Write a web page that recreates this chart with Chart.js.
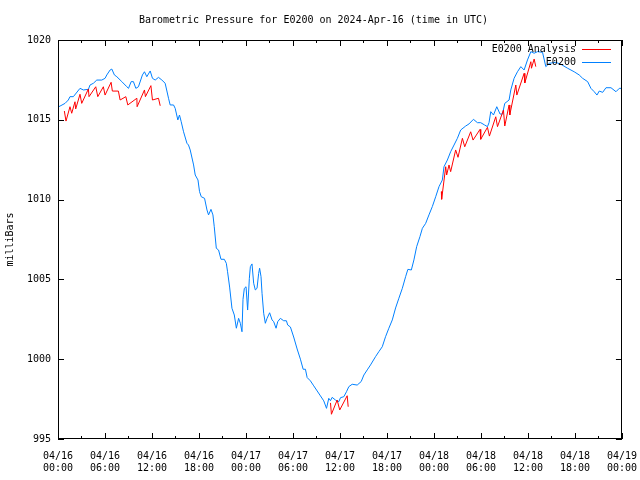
<!DOCTYPE html>
<html>
<head>
<meta charset="utf-8">
<script src="https://cdn.jsdelivr.net/npm/chart.js@4.4.1/dist/chart.umd.min.js"></script>
<style>
  html, body { margin: 0; padding: 0; background: #fff; }
  canvas { display: block; }
</style>
</head>
<body>
<canvas id="pressure" width="640" height="480"></canvas>
<script>
// hours since 04/16 00:00 UTC and pressure in mb
const obsHours = [0.00, 0.26, 0.90, 1.32, 1.53, 1.96, 2.81, 3.24, 3.88, 4.09, 4.52, 4.95, 5.59, 6.01, 6.23, 6.65, 6.87, 7.20, 7.51, 8.15,
  8.79, 9.00, 9.34, 9.63, 9.94, 10.27, 10.78, 11.04, 11.34, 11.77, 12.06, 12.41, 12.83, 13.26, 13.68, 14.11, 14.32, 14.75, 14.96, 15.30,
  15.51, 15.73, 16.03, 16.46, 16.66, 16.88, 17.31, 17.52, 17.87, 18.07, 18.29, 18.71, 19.02, 19.22, 19.53, 19.78, 19.95, 20.21, 20.50, 20.81,
  21.23, 21.49, 21.65, 21.91, 22.21, 22.51, 22.77, 23.06, 23.28, 23.49, 23.62, 23.79, 24.01, 24.21, 24.43, 24.56, 24.77, 24.98, 25.19, 25.41,
  25.62, 25.74, 25.92, 26.05, 26.26, 26.47, 26.69, 27.02, 27.33, 27.54, 27.84, 28.05, 28.39, 28.81, 29.16, 29.33, 29.67, 30.09, 30.53, 30.95,
  31.30, 31.59, 31.81, 32.23, 32.65, 33.09, 33.51, 33.93, 34.28, 34.57, 34.79, 35.00, 35.43, 35.85, 36.07, 36.49, 36.83, 37.13, 37.56, 38.20,
  38.71, 39.05, 39.48, 39.90, 40.54, 40.96, 41.40, 41.82, 42.24, 42.68, 43.10, 43.52, 43.96, 44.38, 44.67, 45.11, 45.44, 45.79, 46.21, 46.52,
  46.94, 47.36, 47.79, 48.22, 48.64, 49.07, 49.28, 49.71, 50.13, 50.56, 50.99, 51.41, 52.05, 52.47, 53.04, 53.55, 53.97, 54.48, 54.83, 55.03,
  55.25, 55.60, 56.02, 56.44, 56.75, 57.04, 57.59, 57.81, 58.23, 58.66, 59.09, 59.51, 59.94, 60.37, 60.79, 61.22, 61.86, 62.28, 62.71, 63.56,
  64.20, 65.06, 65.90, 66.54, 66.98, 67.62, 68.04, 68.46, 68.81, 69.10, 69.54, 69.96, 70.60, 71.24, 71.66, 72.00];
const obsValues = [1015.80, 1015.86, 1016.03, 1016.24, 1016.45, 1016.45, 1016.97, 1016.87, 1016.91, 1017.18, 1017.29, 1017.49, 1017.49, 1017.60, 1017.81, 1018.12, 1018.18, 1017.81, 1017.70, 1017.39,
  1017.07, 1016.97, 1017.39, 1017.39, 1016.97, 1017.07, 1017.81, 1018.01, 1017.70, 1018.06, 1017.60, 1017.49, 1017.66, 1017.49, 1017.29, 1016.35, 1015.93, 1015.93, 1015.72, 1014.99,
  1015.30, 1014.88, 1014.25, 1013.53, 1013.42, 1013.11, 1012.17, 1011.54, 1011.23, 1010.50, 1010.18, 1010.08, 1009.35, 1009.04, 1009.39, 1009.04, 1008.30, 1006.95, 1006.84, 1006.26,
  1006.26, 1006.01, 1005.48, 1004.52, 1003.19, 1002.77, 1001.94, 1002.56, 1002.25, 1001.72, 1003.75, 1004.44, 1004.54, 1003.08, 1005.07, 1005.80, 1005.97, 1004.76, 1004.34, 1004.44,
  1005.38, 1005.70, 1005.17, 1004.13, 1002.88, 1002.25, 1002.56, 1002.91, 1002.46, 1002.35, 1001.94, 1002.35, 1002.56, 1002.41, 1002.41, 1002.14, 1002.02, 1001.39, 1000.64, 1000.00,
  999.37, 999.37, 998.85, 998.64, 998.33, 998.01, 997.70, 997.39, 996.92, 997.55, 997.40, 997.61, 997.44, 997.34, 997.59, 997.65, 997.96, 998.28, 998.43, 998.38,
  998.60, 999.01, 999.33, 999.64, 1000.16, 1000.47, 1000.78, 1001.41, 1001.94, 1002.46, 1003.21, 1003.82, 1004.44, 1005.17, 1005.63, 1005.59, 1006.22, 1007.05, 1007.68, 1008.20,
  1008.51, 1009.04, 1009.56, 1010.18, 1010.81, 1011.23, 1012.06, 1012.48, 1013.00, 1013.42, 1013.84, 1014.36, 1014.61, 1014.74, 1015.03, 1014.82, 1014.82, 1014.67, 1014.57, 1014.82,
  1015.51, 1015.30, 1015.82, 1015.36, 1015.36, 1016.03, 1016.24, 1016.87, 1017.60, 1018.01, 1018.33, 1018.12, 1018.75, 1019.27, 1019.17, 1019.27, 1019.23, 1018.33, 1018.54, 1018.60,
  1018.48, 1018.23, 1018.01, 1017.81, 1017.60, 1017.39, 1016.97, 1016.76, 1016.55, 1016.80, 1016.72, 1017.01, 1017.01, 1016.76, 1016.97, 1016.97];

// analysis series, null marks a gap
const anaHours = [0.81, 1.02, 1.53, 1.75, 2.17, 2.26, 2.81, 3.03, 3.88, 3.96, 4.82, 5.08, 5.79, 6.01, 6.78, 6.94, 7.71, 7.93, 8.66, 8.91,
  10.07, 10.10, 11.04, 11.16, 11.86, 12.06, 12.83, 13.05, 20.0,
  34.79, 34.91, 35.64, 35.97, 36.92, 37.05, 42.0,
  48.94, 48.98, 49.50, 49.62, 49.92, 50.13, 50.77, 51.07, 51.63, 51.93, 52.69, 52.99, 53.88, 53.97, 54.83, 55.08, 55.89, 56.11, 56.87, 57.04,
  57.59, 57.68, 58.45, 58.58, 59.51, 59.60, 60.37, 60.45, 60.79, 61.00];
const anaValues = [1015.55, 1014.92, 1015.82, 1015.41, 1016.13, 1015.68, 1016.60, 1016.03, 1016.93, 1016.45, 1017.07, 1016.45, 1017.07, 1016.55, 1017.35, 1016.80, 1016.80, 1016.24, 1016.45, 1015.93,
  1016.35, 1015.82, 1016.87, 1016.45, 1017.14, 1016.24, 1016.35, 1015.88, null,
  997.26, 996.55, 997.44, 996.82, 997.71, 997.02, null,
  1010.50, 1010.02, 1012.06, 1011.54, 1012.17, 1011.75, 1013.11, 1012.65, 1013.84, 1013.31, 1014.25, 1013.73, 1014.40, 1013.78, 1014.53, 1013.98, 1015.19, 1014.57, 1015.61, 1014.61,
  1015.93, 1015.30, 1017.18, 1016.55, 1017.91, 1017.31, 1018.64, 1018.23, 1018.81, 1018.33];

const tickDates = ['04/16', '04/16', '04/16', '04/16', '04/17', '04/17', '04/17', '04/17', '04/18', '04/18', '04/18', '04/18', '04/19'];
const tickTimes = ['00:00', '06:00', '12:00', '18:00', '00:00', '06:00', '12:00', '18:00', '00:00', '06:00', '12:00', '18:00', '00:00'];

const seriesColors = ['#ff0000', '#0080ff'];
const monoFont = { family: "'DejaVu Sans Mono', 'Liberation Mono', monospace", size: 10 };
Chart.defaults.color = '#000';

// gnuplot style frame, inward tics and legend
const framePlugin = {
    id: 'frame',
    afterDraw(chart) {
        const ctx = chart.ctx;
        const a = chart.chartArea;
        const xs = chart.scales.x;
        const ys = chart.scales.y;
        ctx.save();
        ctx.strokeStyle = '#000';
        ctx.lineWidth = 1;
        ctx.strokeRect(Math.round(a.left) + 0.5, Math.round(a.top) + 0.5,
            Math.round(a.right - a.left) - 1, Math.round(a.bottom - a.top) - 1);
        ctx.beginPath();
        for (let h = xs.min; h <= xs.max; h += 3) {
            const px = Math.round(xs.getPixelForValue(h)) + 0.5;
            const len = h % 6 === 0 ? 6 : 3;
            ctx.moveTo(px, a.bottom); ctx.lineTo(px, a.bottom - len);
            ctx.moveTo(px, a.top); ctx.lineTo(px, a.top + len);
        }
        for (let v = ys.min; v <= ys.max; v += 5) {
            const py = Math.round(ys.getPixelForValue(v)) + 0.5;
            ctx.moveTo(a.left, py); ctx.lineTo(a.left + 6, py);
            ctx.moveTo(a.right, py); ctx.lineTo(a.right - 6, py);
        }
        ctx.stroke();

        ctx.font = "10px 'DejaVu Sans Mono', monospace";
        ctx.textAlign = 'right';
        ctx.textBaseline = 'middle';
        chart.data.datasets.forEach((ds, i) => {
            const y = Math.round(a.top + 9 + i * 13);
            ctx.fillStyle = '#000';
            ctx.fillText(ds.label, a.right - 46, y);
            ctx.fillStyle = seriesColors[i];
            ctx.fillRect(Math.round(a.right - 40), y, 29, 1);
        });
        ctx.restore();
    }
};

new Chart(document.getElementById('pressure'), {
    type: 'line',
    data: {
        datasets: [
            {
                label: 'E0200 Analysis',
                data: anaHours.map((h, i) => ({ x: h, y: anaValues[i] })),
                borderColor: seriesColors[0],
                borderWidth: 1,
                pointRadius: 0,
                spanGaps: false
            },
            {
                label: 'E0200',
                data: obsHours.map((h, i) => ({ x: h, y: obsValues[i] })),
                borderColor: seriesColors[1],
                borderWidth: 1,
                pointRadius: 0
            }
        ]
    },
    options: {
        responsive: false,
        animation: false,
        layout: { padding: { left: 0, right: 13, top: 0, bottom: 0 } },
        plugins: {
            legend: { display: false },
            tooltip: { enabled: false },
            title: {
                display: true,
                text: 'Barometric Pressure for E0200 on 2024-Apr-16 (time in UTC)',
                font: { ...monoFont, weight: 'normal' },
                padding: { top: 14, bottom: 14 }
            }
        },
        scales: {
            x: {
                type: 'linear',
                min: 0,
                max: 72,
                grid: { display: false },
                border: { display: false },
                ticks: {
                    stepSize: 6,
                    padding: 3,
                    maxRotation: 0,
                    font: monoFont,
                    callback: v => [tickDates[v / 6], tickTimes[v / 6]]
                },
                afterFit: s => { s.height = 41; }
            },
            y: {
                min: 995,
                max: 1020,
                grid: { display: false, drawTicks: false },
                border: { display: false },
                ticks: { stepSize: 5, padding: 7, font: monoFont, callback: v => String(v) },
                title: { display: true, text: 'milliBars', font: monoFont, padding: { top: 4, bottom: 0 } },
                afterFit: s => { s.width = 58; }
            }
        }
    },
    plugins: [framePlugin]
});
</script>
</body>
</html>
